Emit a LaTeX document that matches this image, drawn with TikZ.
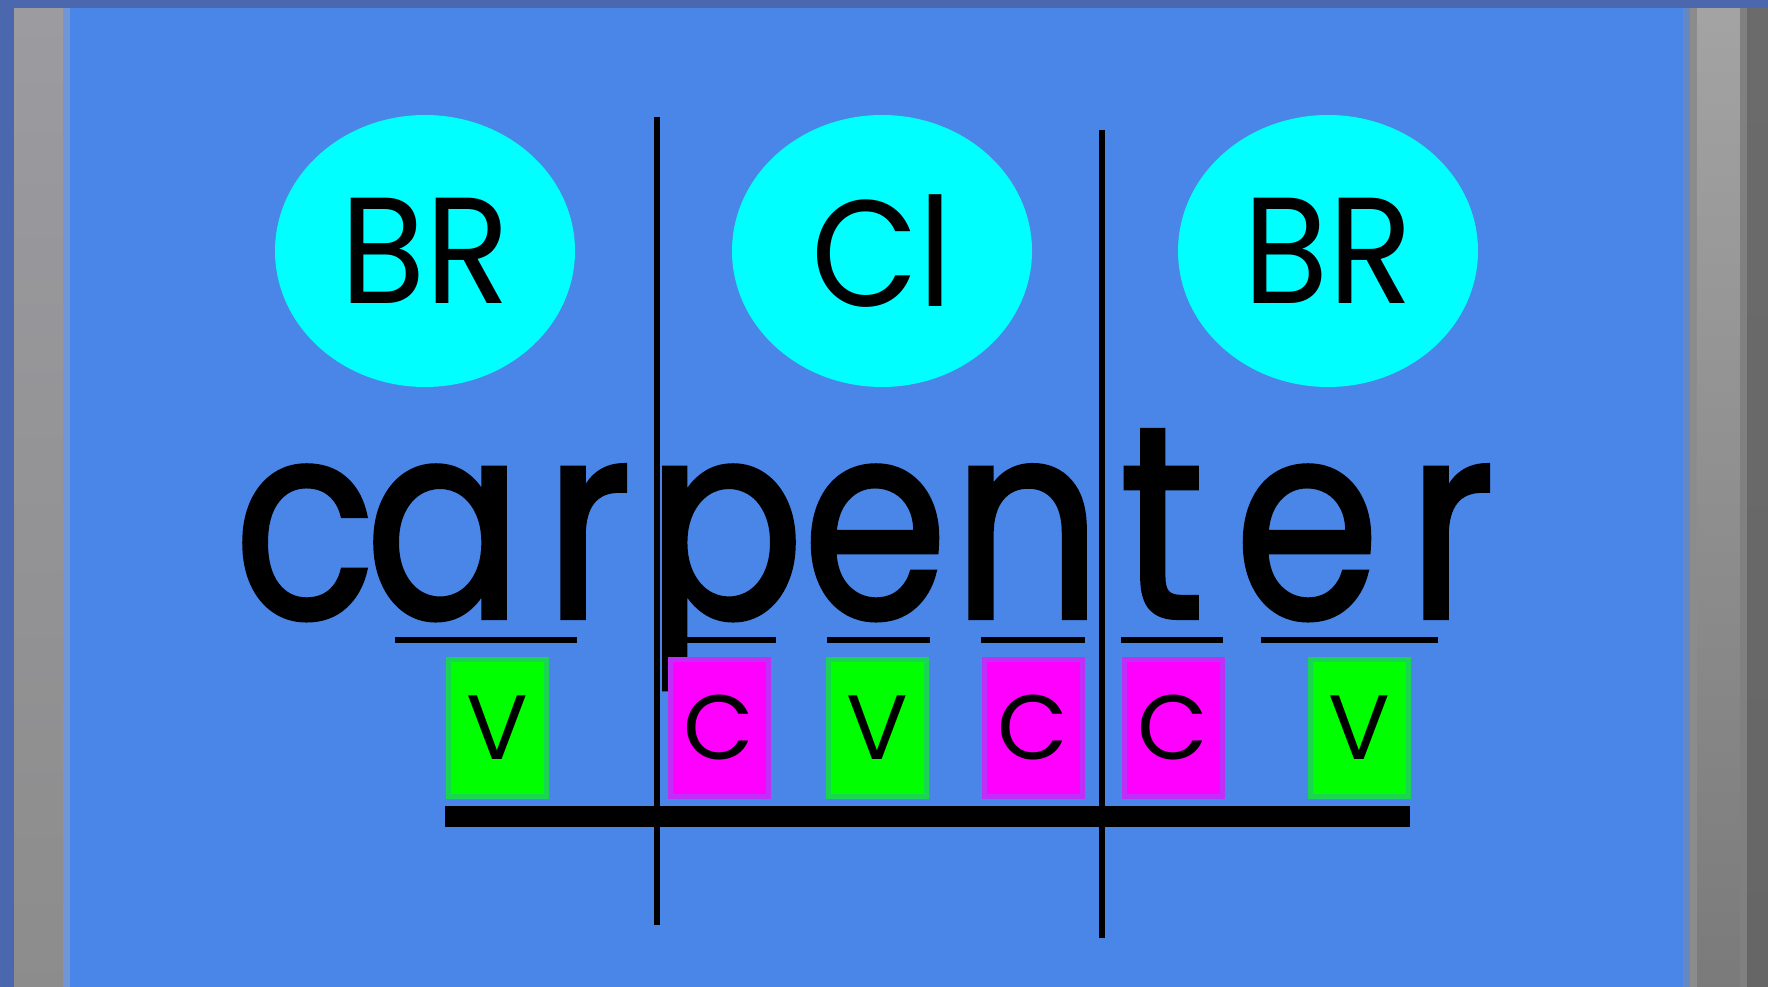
\documentclass[tikz,border=0pt]{standalone}
\usepackage{fontspec}
\setmainfont{Poppins}
\newfontfamily\wordfont[FakeStretch=0.85,FakeBold=1.5]{Poppins}
\newfontfamily\bubblefont[FakeStretch=0.92]{Poppins}
\usetikzlibrary{positioning,shapes.geometric}
\definecolor{panelblue}{HTML}{4A86E8}
\definecolor{edgeblue}{HTML}{4B68AF}
\definecolor{rimblue}{HTML}{7096D8}
\definecolor{vgreen}{HTML}{00FF00}
\definecolor{cmagenta}{HTML}{FF00FF}
\definecolor{bubblecyan}{HTML}{00FFFF}

\begin{document}
\begin{tikzpicture}[x=0.1mm,y=-0.1mm,
  bubble/.style={ellipse,fill=bubblecyan,minimum width=30mm,minimum height=27.2mm,inner sep=0pt,font=\bubblefont\fontsize{43}{43}\selectfont},
  letter/.style={anchor=base,inner sep=0pt,text depth=0pt,font=\wordfont\fontsize{78}{78}\selectfont},
  vbox/.style={draw=vgreen!65!panelblue,fill=vgreen,line width=0.5mm,minimum width=9.8mm,minimum height=13.6mm,inner sep=0pt,font=\fontsize{26}{26}\selectfont},
  cbox/.style={vbox,draw=cmagenta!65!panelblue,fill=cmagenta},
  split/.style={line width=0.55mm},
  uline/.style={line width=0.6mm}]
\useasboundingbox (0,0) rectangle (1768,987);
\fill[panelblue] (0,0) rectangle (1768,987);
\fill[edgeblue] (0,0) rectangle (14,987);
\shade[top color=black!38!white!98!blue, bottom color=black!45] (14,8) rectangle (63,987);
\fill[rimblue] (63,8) rectangle (70,987);
\fill[rimblue!90!black] (1683,8) rectangle (1690,987);
\fill[black!45] (1690,8) rectangle (1697,987);
\shade[top color=black!36, bottom color=black!52] (1697,8) rectangle (1740,987);
\fill[black!50] (1740,8) rectangle (1747,987);
\shade[top color=black!58, bottom color=black!60] (1747,8) rectangle (1768,987);
\fill[edgeblue] (0,0) rectangle (1768,8);

\node[bubble] (br1) at (425,251) {BR};
\node[bubble] (cl) at (882,251) {Cl};
\node[bubble] (br2) at (1328,251) {BR};

\draw[split] (657,117) -- (657,925);
\draw[split] (1102,130) -- (1102,938);

\foreach \x/\c [count=\i] in {305/c,444/a,588/r,725/p,875/e,1027/n,1162/t,1307/e,1451/r}
  \node[letter] (l\i) at (\x,618) {\c};

\foreach \a/\b in {395/577,671/776,827/930,981/1085,1121/1223,1261/1438}
  \draw[uline] (\a,640) -- (\b,640);

\foreach \x/\s/\t [count=\i] in {497/vbox/V,719/cbox/C,877/vbox/V,1033/cbox/C,1173/cbox/C,1359/vbox/V}
  \node[\s] (k\i) at (\x,728) {\t};

\fill (445,806) rectangle (1410,827);
\end{tikzpicture}
\end{document}
